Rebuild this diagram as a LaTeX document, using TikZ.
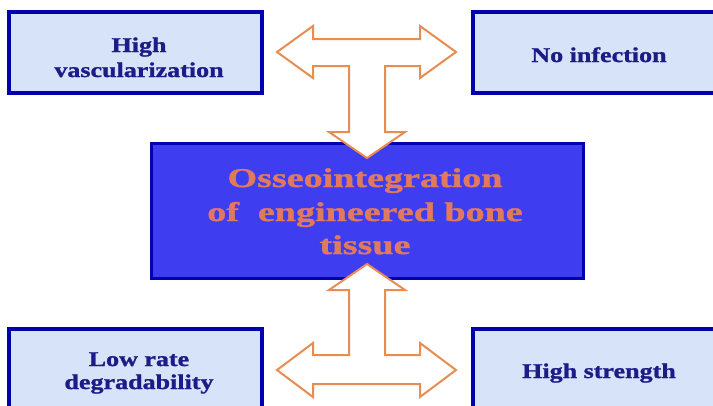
\documentclass[tikz,border=0pt]{standalone}
\usepackage{fontspec}
\newfontfamily\lblfont[FakeStretch=1.24,FakeBold=1.2]{Liberation Serif}
\newfontfamily\mainlblfont[FakeStretch=1.41,FakeBold=1.4]{Liberation Serif}
\definecolor{boxfill}{RGB}{214,227,248}
\definecolor{boxedge}{RGB}{0,0,175}
\definecolor{centerfill}{RGB}{62,62,240}
\definecolor{lbltext}{RGB}{28,28,135}
\definecolor{centertext}{RGB}{224,122,94}
\definecolor{arrowedge}{RGB}{232,140,80}
\tikzset{
  sidebox/.style={draw=boxedge, fill=boxfill, line width=4pt, inner sep=0pt},
  mainbox/.style={draw=boxedge, fill=centerfill, line width=3pt, inner sep=0pt},
  sidetext/.style={anchor=base, inner sep=0pt, text=lbltext, font=\lblfont\bfseries\fontsize{21}{25}\selectfont},
  maintext/.style={anchor=base, inner sep=0pt, text=centertext, font=\mainlblfont\bfseries\fontsize{27}{33}\selectfont},
  blockarrow/.style={draw=arrowedge, fill=white, line width=2pt, line join=miter}
}
\begin{document}
\begin{tikzpicture}[x=1pt,y=-1pt]
\clip (0,0) rectangle (713,405);
\fill[white] (0,0) rectangle (713,405);
% boxes
\node[sidebox, minimum width=253pt, minimum height=81pt] (vasc) at (135.5,52.5) {};
\node[sidebox, minimum width=253pt, minimum height=81pt] (infect) at (599.5,52.5) {};
\node[sidebox, minimum width=253pt, minimum height=81pt] (degrad) at (135.5,369) {};
\node[sidebox, minimum width=253pt, minimum height=81pt] (strength) at (599.5,369) {};
\node[mainbox, minimum width=432pt, minimum height=135pt] (osseo) at (367,210.5) {};
% texts
\node[sidetext] (vascA) at (139,52) {High};
\node[sidetext] (vascB) at (139,77) {vascularization};
\node[sidetext] (infectA) at (599,62) {No infection};
\node[sidetext] (degradA) at (139,366) {Low rate};
\node[sidetext] (degradB) at (139,389) {degradability};
\node[sidetext] (strengthA) at (599,378) {High strength};
\node[maintext] (osseoA) at (365,187) {Osseointegration};
\node[maintext] (osseoB) at (365,221) {of~ engineered bone};
\node[maintext] (osseoC) at (365,254) {tissue};
% top T block arrow
\draw[blockarrow] (277,52) -- (313,26) -- (313,39) -- (420,39) -- (420,26) -- (456,52)
  -- (420,78) -- (420,66) -- (385,66) -- (385,132) -- (405,132) -- (367,158)
  -- (329,132) -- (349,132) -- (349,66) -- (313,66) -- (313,78) -- cycle;
% bottom T block arrow
\draw[blockarrow] (367,264) -- (405,290) -- (385,290) -- (385,355) -- (420,355) -- (420,343)
  -- (456,370) -- (420,397) -- (420,384) -- (313,384) -- (313,397) -- (277,370)
  -- (313,343) -- (313,355) -- (349,355) -- (349,290) -- (329,290) -- cycle;
\end{tikzpicture}
\end{document}
